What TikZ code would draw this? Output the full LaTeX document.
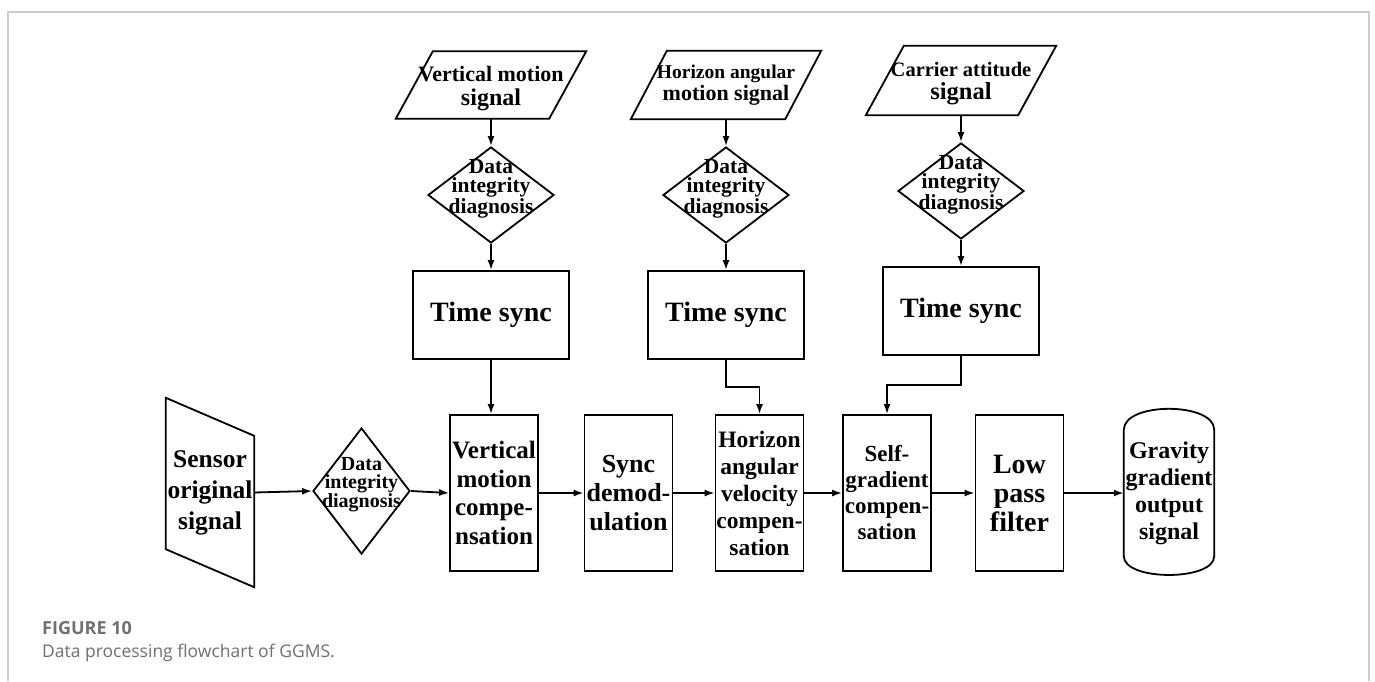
\documentclass[tikz,border=0pt]{standalone}
\usepackage{fontspec}
\setmainfont{Liberation Serif}
\newfontfamily\capfont{Open Sans}
\usetikzlibrary{shapes.geometric, arrows.meta, calc}
\definecolor{framegray}{RGB}{205,205,205}
\definecolor{capgray}{RGB}{112,112,112}
\tikzset{
  ln/.style={line width=1.8pt, black},
  arr/.style={ln, -{Latex[length=10pt,width=7pt]}},
  box/.style={draw, ln, minimum width=88pt, minimum height=156pt, text width=88pt,
    inner sep=0pt, align=center, font=\bfseries\fontsize{25}{28.5}\selectfont},
  tbox/.style={draw, ln, minimum width=156pt, minimum height=88pt, inner sep=0pt,
    font=\bfseries\fontsize{28}{30}\selectfont},
  dia/.style={diamond, draw, ln, minimum width=126pt, minimum height=96pt, inner sep=0pt},
  dtext/.style={align=center, inner sep=0pt, font=\bfseries\fontsize{21.5}{19}\selectfont},
  ghost/.style={inner sep=0pt, minimum width=#1},
  ghost/.default=153pt,
  ptext/.style={align=center, inner sep=0pt, font=\bfseries\fontsize{22}{#1}\selectfont},
  ptext/.default=24pt,
}
\begin{document}
\begin{tikzpicture}[x=1pt,y=-1pt]
\useasboundingbox (0,0) rectangle (1375,681);
% frame
\draw[framegray, line width=1.3pt] (8,681) -- (8,12) -- (1369,12) -- (1369,681);

% ---------- top column 1 ----------
\node[ghost=153pt, minimum height=67pt,
  label={[ptext=24pt, yshift=-4pt]center:{{\fontsize{22}{24}\selectfont Vertical motion}\\{\fontsize{24}{24}\selectfont signal}}}] (p1) at (491,85) {};
\draw[ln] ([xshift=18.5pt]p1.north west) -- ([xshift=18.5pt]p1.north east) -- ([xshift=-18.5pt]p1.south east) -- ([xshift=-18.5pt]p1.south west) -- cycle;
\node[dia, label={[dtext, yshift=6pt]center:{Data\\integrity\\diagnosis}}] (d1) at (491,195) {};
\node[tbox] (t1) at (491,315) {Time sync};

% ---------- top column 2 ----------
\node[ghost=154pt, minimum height=68pt,
  label={[ptext=22pt]center:{{\fontsize{19.5}{22}\selectfont Horizon angular}\\{\fontsize{22}{22}\selectfont motion signal}}}] (p2) at (726,85) {};
\draw[ln] ([xshift=18pt]p2.north west) -- ([xshift=18pt]p2.north east) -- ([xshift=-18pt]p2.south east) -- ([xshift=-18pt]p2.south west) -- cycle;
\node[dia, label={[dtext, yshift=6pt]center:{Data\\integrity\\diagnosis}}] (d2) at (726,195) {};
\node[tbox] (t2) at (726,315) {Time sync};

% ---------- top column 3 ----------
\node[ghost=152pt, minimum height=69pt,
  label={[ptext=23pt, yshift=-3pt]center:{{\fontsize{20.5}{23}\selectfont Carrier attitude}\\{\fontsize{24.5}{23}\selectfont signal}}}] (p3) at (961,80.5) {};
\draw[ln] ([xshift=19pt]p3.north west) -- ([xshift=19pt]p3.north east) -- ([xshift=-19pt]p3.south east) -- ([xshift=-19pt]p3.south west) -- cycle;
\node[dia, label={[dtext, yshift=6pt]center:{Data\\integrity\\diagnosis}}] (d3) at (961,191) {};
\node[tbox] (t3) at (961,311) {Time sync};

% ---------- bottom row ----------
\node[inner sep=0pt, minimum width=88pt, minimum height=151pt, text width=88pt, align=center,
  font=\bfseries\fontsize{25.5}{31}\selectfont] (sen) at (210,492.5) {Sensor\\original\\signal};
\draw[ln] ([yshift=19pt]sen.north west) -- ([yshift=-19pt]sen.north east) -- ([yshift=-19pt]sen.south east) -- ([yshift=19pt]sen.south west) -- cycle;

\node[diamond, draw, ln, minimum width=97pt, minimum height=126pt, inner sep=0pt,
  label={[align=center, inner sep=0pt, yshift=6pt, font=\bfseries\fontsize{20}{17.5}\selectfont]center:{Data\\integrity\\diagnosis}}] (d0) at (361.5,491) {};

\node[box] (vert) at (494,493) {Vertical\\motion\\compe-\\nsation};
\node[box, font=\bfseries\fontsize{26}{29}\selectfont] (sync) at (628.5,493) {Sync\\demod-\\ulation};
\node[box, font=\bfseries\fontsize{23.5}{27}\selectfont] (horiz) at (759.5,493) {Horizon\\angular\\velocity\\compen-\\sation};
\node[box, font=\bfseries\fontsize{23}{26}\selectfont] (self) at (887,493) {Self-\\gradient\\compen-\\sation};
\node[box, font=\bfseries\fontsize{28}{29}\selectfont] (low) at (1019.5,493) {Low\\pass\\filter};

\node[inner sep=0pt, minimum width=90pt, minimum height=126pt, text width=90pt, align=center,
  font=\bfseries\fontsize{24}{27}\selectfont] (grav) at (1169,493) {Gravity\\gradient\\output\\signal};
\draw[ln] (grav.south west) -- (grav.north west)
  .. controls ([yshift=28pt]grav.north west) and ([yshift=28pt]grav.north east) .. (grav.north east)
  -- (grav.south east)
  .. controls ([yshift=-25pt]grav.south east) and ([yshift=-25pt]grav.south west) .. (grav.south west) -- cycle;

% ---------- connectors ----------
\draw[arr] (p1.south) -- (d1.north);
\draw[arr] (d1.south) -- (t1.north);
\draw[arr] (t1.south) -- (t1.south |- vert.north);
\draw[arr] (p2.south) -- (d2.north);
\draw[arr] (d2.south) -- (t2.north);
\draw[arr] (t2.south) -- (t2.south |- 0,387) -- (horiz.north |- 0,387) -- (horiz.north);
\draw[arr] (p3.south) -- (d3.north);
\draw[arr] (d3.south) -- (t3.north);
\draw[arr] (t3.south) -- (t3.south |- 0,385) -- (self.north |- 0,385) -- (self.north);

\draw[arr] (sen.east) -- (d0.west);
\draw[arr] (d0.east) -- (vert.west);
\draw[arr] (vert.east) -- (sync.west);
\draw[arr] (sync.east) -- (horiz.west);
\draw[arr] (horiz.east) -- (self.west);
\draw[arr] (self.east) -- (low.west);
\draw[arr] (low.east) -- (grav.west);

% ---------- caption ----------
\node[anchor=base west, inner sep=0pt, text=capgray, font=\capfont\bfseries\fontsize{18}{20}\selectfont] (figlabel) at (42,634) {FIGURE 10};
\node[anchor=base west, inner sep=0pt, text=capgray, font=\capfont\fontsize{17.5}{20}\selectfont] (caption) at (42,657) {Data processing flowchart of GGMS.};
\end{tikzpicture}
\end{document}
